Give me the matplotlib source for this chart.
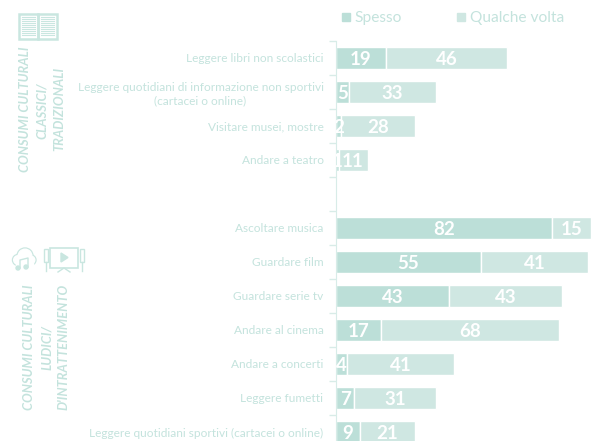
import matplotlib
matplotlib.use('Agg')
import matplotlib.pyplot as plt
from matplotlib.patches import Rectangle, Circle, Polygon

categories = ['Leggere libri non scolastici',
              'Leggere quotidiani di informazione non sportivi\n(cartacei o online)',
              'Visitare musei, mostre', 'Andare a teatro', '',
              'Ascoltare musica', 'Guardare film', 'Guardare serie tv',
              'Andare al cinema', 'Andare a concerti', 'Leggere fumetti',
              'Leggere quotidiani sportivi (cartacei o online)']
spesso = [19, 5, 2, 1, 0, 82, 55, 43, 17, 4, 7, 9]
qualche = [46, 33, 28, 11, 0, 15, 41, 43, 68, 41, 31, 21]

DARK = '#bcdfd8'
LIGHT = '#cfe7e2'
TXT = '#c4e3dd'
W, H = 591, 441

plt.rcParams['font.family'] = ['Lato', 'DejaVu Sans']
fig = plt.figure(figsize=(5.91, 4.41), dpi=100)

# overlay in pixel coords for group labels, icons, legend
bg = fig.add_axes([0, 0, 1, 1])
bg.set_xlim(0, W)
bg.set_ylim(H, 0)
bg.axis('off')

ax = fig.add_axes([336 / W, 0, 255 / W, (H - 41) / H])
ax.patch.set_alpha(0)
ax.set_xlim(0, 97)
step = 34.0

ys = list(range(len(categories)))
ax.barh(ys, spesso, height=0.66, color=DARK, edgecolor='white', linewidth=1.0)
ax.barh(ys, qualche, left=spesso, height=0.66, color=LIGHT, edgecolor='white', linewidth=1.0)

for y, s, q in zip(ys, spesso, qualche):
    if s == 0:
        continue
    ax.text(s / 2, y + 0.03, str(s), ha='center', va='center', color='white',
            fontsize=13.5, fontweight='bold', clip_on=True)
    ax.text(s + q / 2, y + 0.03, str(q), ha='center', va='center', color='white',
            fontsize=13.5, fontweight='bold', clip_on=True)

ax.set_yticks(ys)
ax.set_yticklabels(categories, fontsize=8.6, color=TXT, ha='right', multialignment='center', linespacing=1.2)
ax.set_yticks([i - 0.5 for i in range(12)], minor=True)
ax.tick_params(axis='y', which='major', length=0, pad=9)
ax.tick_params(axis='y', which='minor', length=5, color='#d8ece8', width=1)
ax.set_xticks([])
for side in ['top', 'right', 'bottom']:
    ax.spines[side].set_visible(False)
ax.spines['left'].set_color('#d8ece8')
# set after the ticks, set_yticks widens the view
ax.set_ylim(-0.5 + (H - 41) / step, -0.5)

# legend
bg.add_patch(Rectangle((342, 13), 8, 8, color=DARK))
bg.text(354, 18, 'Spesso', fontsize=11.2, color=TXT, va='center')
bg.add_patch(Rectangle((457, 13), 8, 8, color=LIGHT))
bg.text(470, 18, 'Qualche volta', fontsize=11.2, color=TXT, va='center')

# group labels
grp = dict(rotation=90, ha='center', va='center', fontsize=9.3, color=TXT,
           style='italic', fontweight='bold')
bg.text(25, 109, 'CONSUMI CULTURALI', **grp)
bg.text(42, 111, 'CLASSICI/', **grp)
bg.text(59, 109, 'TRADIZIONALI', **grp)
bg.text(29, 347, 'CONSUMI CULTURALI', **grp)
bg.text(47, 348, 'LUDICI/', **grp)
bg.text(63, 347, "D'INTRATTENIMENTO", **grp)

# book icon
ic = '#c9e6e0'
bg.add_patch(Rectangle((19, 14), 19, 25, fc='none', ec=ic, lw=1.8))
bg.add_patch(Rectangle((38, 14), 19, 25, fc='none', ec=ic, lw=1.8))
for yy in range(17, 37, 2):
    bg.plot([22, 35], [yy, yy], color=ic, lw=0.8)
    bg.plot([41, 54], [yy, yy], color=ic, lw=0.8)

# cloud with note icon
lobes = [(18, 260, 5.5), (25, 256, 8), (31, 260, 5)]
for cx, cy, r in lobes:
    bg.add_patch(Circle((cx, cy), r, color=ic, zorder=2))
for cx, cy, r in lobes:
    bg.add_patch(Circle((cx, cy), r - 1.2, color='white', zorder=3))
bg.add_patch(Rectangle((16, 262), 17, 4, color='white', zorder=3))
bg.add_patch(Circle((18, 268), 2, color=ic, zorder=4))
bg.add_patch(Circle((26, 267), 2, color=ic, zorder=4))
bg.plot([20, 20, 28, 28], [268, 260, 258, 267], color=ic, lw=1, zorder=4)

# tv with speakers icon
bg.add_patch(Rectangle((50, 248), 28, 20, fc='none', ec=ic, lw=1.2))
bg.add_patch(Polygon([(61, 253), (61, 262), (68, 257.5)], color=ic))
bg.plot([58, 64, 70], [272, 268, 272], color=ic, lw=1)
for xx in (45.5, 82):
    bg.add_patch(Rectangle((xx - 2, 249), 4, 13, fc='none', ec=ic, lw=1))
    bg.plot([xx, xx], [262, 271], color=ic, lw=1)

fig.savefig('out.png', dpi=100)
print('Saved out.png')
